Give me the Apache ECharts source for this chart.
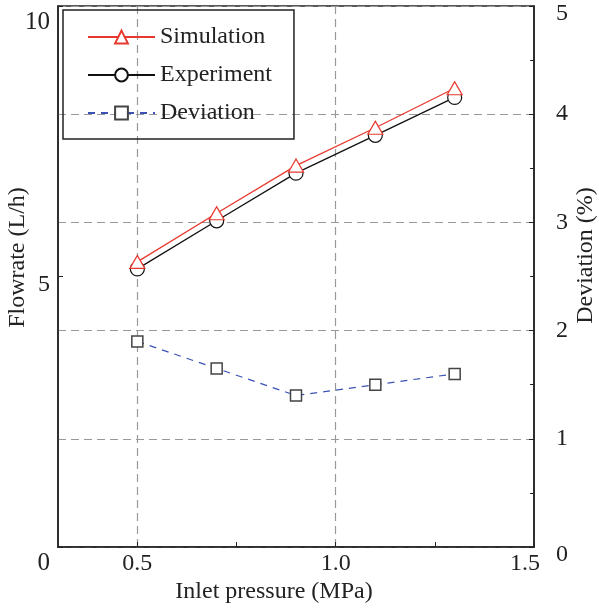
<!DOCTYPE html>
<html>
<head>
<meta charset="utf-8">
<script src="https://cdn.jsdelivr.net/npm/echarts@6/dist/echarts.min.js"></script>
<style>
  html, body { margin: 0; padding: 0; background: #fff; }
  #chart { width: 599px; height: 609px; }
</style>
</head>
<body>
<div id="chart"></div>
<script>
// inlet pressure (MPa)
const pressure = [0.5, 0.7, 0.9, 1.1, 1.3];
// flowrate (L/h)
const simulation = [5.27, 6.17, 7.05, 7.75, 8.48];
const experiment = [5.14, 6.03, 6.91, 7.61, 8.31];
// deviation (%)
const deviation = [1.90, 1.65, 1.40, 1.50, 1.60];

const xLabels = [0.5, 1.0, 1.5];
const xTicks = [0.5, 0.75, 1.0, 1.25, 1.5];
const xGrid = [0.5, 1.0];

const font = "Liberation Serif";
const ink = "#222";
const red = "#e8392e";
const blue = "#3b52b4";

function pairs(ys) {
  return pressure.map((p, i) => [p, ys[i]]);
}

const chart = echarts.init(document.getElementById("chart"));

const option = {
  animation: false,
  textStyle: { fontFamily: font, color: ink },
  grid: {
    left: 58, right: 65, top: 6, bottom: 62,
    containLabel: false, outerBoundsMode: "none",
    show: true, borderColor: ink, borderWidth: 1.5, backgroundColor: "transparent"
  },
  legend: {
    orient: "vertical",
    left: 63, top: 10,
    padding: [15, 22, 14, 24],
    borderColor: ink, borderWidth: 1.5,
    itemWidth: 67, itemHeight: 16, itemGap: 14,
    textStyle: { fontFamily: font, fontSize: 24, lineHeight: 23, color: ink },
    data: ["Simulation", "Experiment", "Deviation"]
  },
  xAxis: [
    {
      type: "value", min: 0.3, max: 1.5,
      name: "Inlet pressure (MPa)", nameLocation: "middle", nameGap: 33, nameMoveOverlap: false,
      nameTextStyle: { fontFamily: font, fontSize: 24, color: ink, padding: [0, 44, 0, 0] },
      axisLine: { lineStyle: { color: ink, width: 1.5 } },
      axisTick: { inside: true, length: 5, customValues: xTicks, lineStyle: { color: ink } },
      axisLabel: {
        customValues: xLabels, margin: 5, fontSize: 24, color: ink, fontFamily: font,
        formatter: v => (v === 1.5 ? "{r|" + v.toFixed(1) + "}" : v.toFixed(1)),
        rich: {
          r: { fontFamily: font, fontSize: 24, color: ink, padding: [0, 18, 0, 0] }
        }
      },
      splitLine: { show: false }
    },
    {
      // carries only the vertical dashed grid lines
      type: "value", min: 0.3, max: 1.5, position: "bottom",
      axisLine: { show: false },
      axisTick: { show: false, customValues: xGrid },
      axisLabel: { show: false, customValues: xGrid },
      splitLine: { show: true, lineStyle: { color: "#999", width: 1.2, type: [8, 5] } }
    }
  ],
  yAxis: [
    {
      type: "value", min: 0, max: 10, interval: 5, position: "left",
      name: "Flowrate (L/h)", nameLocation: "middle", nameGap: 28, nameRotate: 90,
      nameMoveOverlap: false,
      nameTextStyle: { fontFamily: font, fontSize: 24, color: ink, padding: [0, 0, 0, 38] },
      axisLine: { show: true, lineStyle: { color: ink, width: 1.5 } },
      axisTick: { show: true, inside: true, length: 5, lineStyle: { color: ink } },
      axisLabel: {
        margin: 8, color: ink, fontFamily: font, fontSize: 24,
        formatter: v => (v === 5 ? "{m|" + v + "}" : "{e|" + v + "}"),
        rich: {
          m: { fontFamily: font, fontSize: 24, color: ink, padding: [16, 0, 0, 0] },
          e: { fontFamily: font, fontSize: 25, color: ink, padding: [32, 0, 0, 0] }
        }
      },
      splitLine: { show: false }
    },
    {
      type: "value", min: 0, max: 5, interval: 1, position: "right",
      name: "Deviation (%)", nameLocation: "middle", nameGap: 40, nameRotate: 90,
      nameMoveOverlap: false,
      nameTextStyle: { fontFamily: font, fontSize: 24, color: ink, padding: [0, 0, 0, 42] },
      axisLine: { show: true, lineStyle: { color: ink, width: 1.5 } },
      axisTick: { show: true, inside: true, length: 5, lineStyle: { color: ink } },
      minorTick: { show: true, splitNumber: 2, length: 4, lineStyle: { color: ink } },
      axisLabel: {
        margin: 22, color: ink, fontFamily: font, fontSize: 24,
        formatter: v => (v === 0 || v === 5 ? "{e|" + v + "}" : "{m|" + v + "}"),
        rich: {
          m: { fontFamily: font, fontSize: 24, color: ink },
          e: { fontFamily: font, fontSize: 24, color: ink, padding: [16, 0, 0, 0] }
        }
      },
      splitLine: { show: true, lineStyle: { color: "#999", width: 1.2, type: [8, 5] } }
    }
  ],
  series: [
    {
      name: "Simulation", type: "line", xAxisIndex: 0, yAxisIndex: 0, z: 4,
      data: pairs(simulation),
      symbol: "triangle", symbolSize: [15, 13],
      lineStyle: { color: red, width: 1.3 },
      itemStyle: { color: "#fff", borderColor: red, borderWidth: 1.2 }
    },
    {
      name: "Experiment", type: "line", xAxisIndex: 0, yAxisIndex: 0, z: 3,
      data: pairs(experiment),
      symbol: "circle", symbolSize: 14,
      lineStyle: { color: "#111", width: 1.3 },
      itemStyle: { color: "#fff", borderColor: "#111", borderWidth: 1.2 }
    },
    {
      name: "Deviation", type: "line", xAxisIndex: 0, yAxisIndex: 1, z: 3,
      data: pairs(deviation),
      symbol: "rect", symbolSize: 11,
      lineStyle: { color: blue, width: 1.2, type: [7, 6] },
      itemStyle: { color: "#fff", borderColor: "#444", borderWidth: 1.5 }
    }
  ]
};

chart.setOption(option);
</script>
</body>
</html>
